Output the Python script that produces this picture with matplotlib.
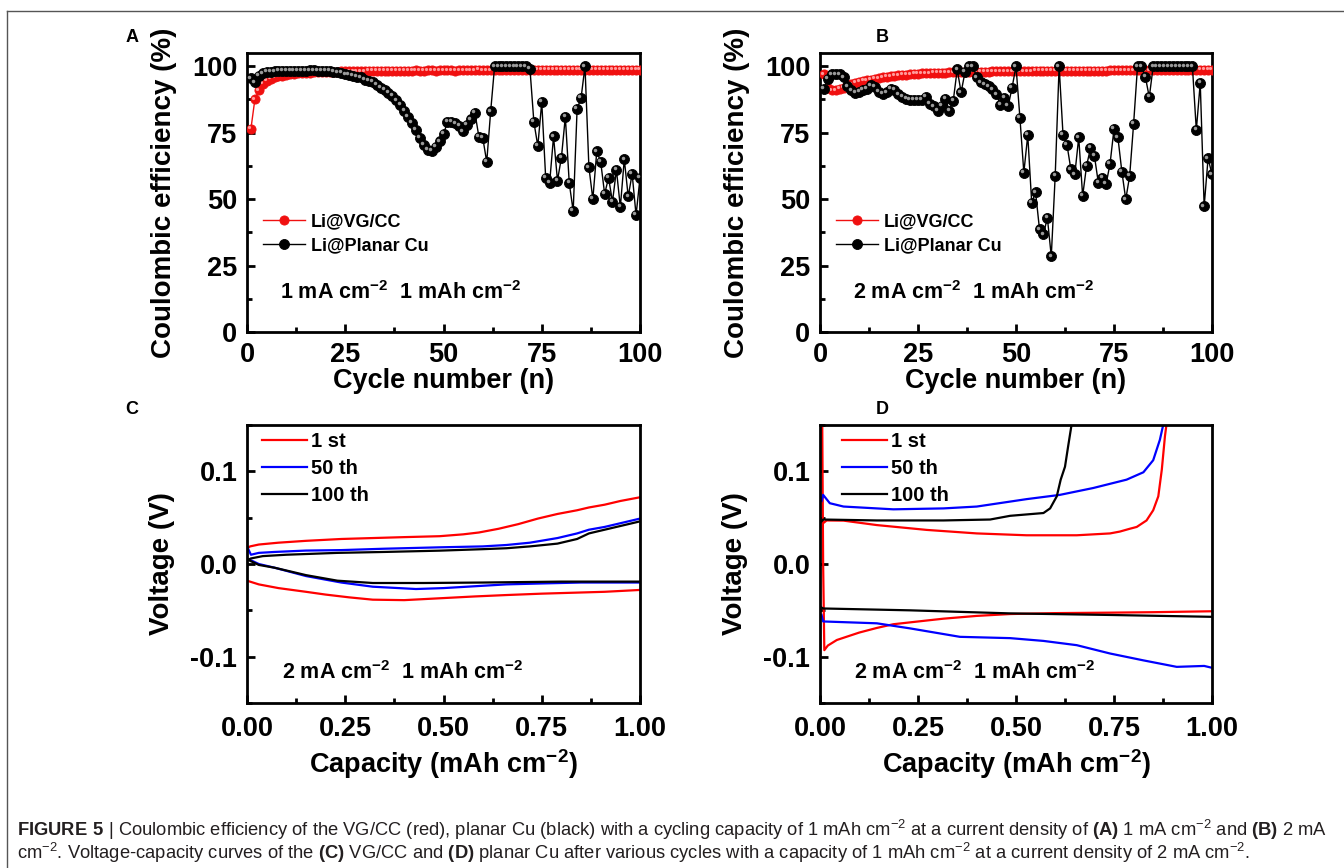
import matplotlib
matplotlib.use('Agg')
import matplotlib.pyplot as plt
from matplotlib.transforms import offset_copy
from matplotlib.ticker import MultipleLocator, FormatStrFormatter
from matplotlib.lines import Line2D

plt.rcParams['font.family'] = ['Liberation Sans', 'DejaVu Sans']
plt.rcParams['font.weight'] = 'bold'
plt.rcParams['axes.labelweight'] = 'bold'
plt.rcParams['mathtext.fontset'] = 'custom'
plt.rcParams['mathtext.rm'] = 'Liberation Sans'
plt.rcParams['mathtext.bf'] = 'Liberation Sans:bold'
plt.rcParams['mathtext.default'] = 'regular'
plt.rcParams['axes.unicode_minus'] = False

# ---------------- data ----------------
cycles = list(range(1, 101))

ce_a_vgcc = [76.5, 87.5, 91.0, 93.5, 94.5, 95.3, 95.8, 96.2, 96.5, 96.8,
             97.0, 97.2, 97.3, 97.4, 97.5, 97.6, 97.7, 97.7, 97.8, 97.8,
             97.9, 98.0, 98.0, 98.1, 98.1, 98.1, 98.2, 98.2, 98.2, 98.2,
             98.3, 98.3, 98.3, 98.3, 98.3, 98.4, 98.3, 98.4, 98.4, 98.4,
             98.4, 98.4, 98.5, 98.4, 98.4, 98.5, 98.5, 98.4, 98.5, 98.5,
             98.5, 98.5, 98.4, 98.5, 98.5, 98.5, 98.5, 98.5, 98.6, 98.5,
             98.5, 98.5, 98.6, 98.5, 98.5, 98.6, 98.6, 98.5, 98.6, 98.6,
             98.6, 98.6, 98.5, 98.6, 98.6, 98.6, 98.6, 98.6, 98.6, 98.7,
             98.6, 98.6, 98.6, 98.7, 98.6, 98.6, 98.7, 98.7, 98.6, 98.7,
             98.7, 98.7, 98.6, 98.7, 98.7, 98.7, 98.7, 98.7, 98.7, 98.7]

ce_a_cu = [95.5, 94.0, 96.5, 97.3, 97.8, 98.0, 98.1, 98.2, 98.2, 98.2,
           98.3, 98.3, 98.3, 98.4, 98.4, 98.5, 98.5, 98.4, 98.4, 98.3,
           98.2, 98.0, 97.7, 97.4, 97.0, 96.8, 96.4, 95.9, 95.8, 95.0,
           94.6, 94.2, 93.0, 92.0, 91.0, 90.0, 88.8, 87.2, 85.6, 83.3,
           81.0, 78.8, 76.2, 73.0, 70.5, 68.5, 68.3, 69.8, 71.8, 74.5,
           79.0, 79.0, 78.5, 77.5, 75.5, 78.0, 80.0, 82.5, 73.5, 73.0,
           64.0, 83.0, 100.0, 100.0, 100.0, 100.0, 100.0, 100.0, 100.0, 100.0,
           100.0, 99.0, 79.0, 70.0, 86.5, 58.0, 56.0, 73.6, 57.0, 65.6,
           81.0, 56.0, 45.5, 84.0, 88.0, 100.0, 62.0, 50.0, 68.0, 64.0,
           52.0, 58.0, 49.0, 61.0, 47.0, 65.0, 51.0, 59.5, 44.0, 58.0]

ce_b_vgcc = [97.0, 92.0, 91.0, 91.0, 91.5, 92.0, 92.8, 93.3, 93.8, 94.2,
             94.5, 94.8, 95.0, 95.3, 95.5, 95.8, 96.0, 96.2, 96.4, 96.6,
             96.8, 96.9, 97.0, 97.1, 97.2, 97.3, 97.4, 97.4, 97.5, 97.5,
             97.6, 97.6, 97.7, 97.7, 97.8, 97.8, 97.8, 97.9, 97.9, 98.0,
             98.0, 98.0, 98.0, 98.1, 98.1, 98.1, 98.1, 98.1, 98.2, 98.2,
             98.2, 98.2, 98.2, 98.2, 98.3, 98.3, 98.3, 98.3, 98.3, 98.3,
             98.3, 98.3, 98.4, 98.4, 98.4, 98.4, 98.4, 98.4, 98.4, 98.4,
             98.4, 98.4, 98.4, 98.5, 98.5, 98.5, 98.5, 98.5, 98.5, 98.5,
             98.5, 98.5, 98.5, 98.5, 98.5, 98.5, 98.6, 98.6, 98.6, 98.6,
             98.6, 98.6, 98.6, 98.6, 98.6, 98.6, 98.6, 98.6, 98.6, 98.6]

ce_b_cu = [91.5, 95.3, 97.0, 97.0, 97.0, 95.8, 92.4, 90.9, 89.9, 90.5,
           91.0, 91.5, 92.8, 92.2, 90.5, 89.6, 90.2, 91.5, 91.0, 89.4,
           88.5, 87.8, 87.4, 87.4, 87.4, 87.4, 88.4, 85.9, 84.9, 83.3,
           85.2, 87.8, 83.3, 87.1, 98.8, 90.2, 97.9, 100.0, 100.0, 95.8,
           93.9, 93.2, 92.5, 91.3, 89.4, 85.6, 88.1, 85.0, 92.0, 100.0,
           80.6, 60.0, 74.1, 48.7, 52.5, 38.6, 36.7, 43.0, 28.5, 58.8,
           100.0, 74.1, 70.5, 61.2, 59.3, 73.2, 51.2, 62.5, 69.2, 66.3,
           56.2, 58.1, 55.8, 63.4, 76.4, 73.2, 60.4, 49.9, 58.8, 78.3,
           100.0, 100.0, 96.0, 88.4, 100.0, 100.0, 100.0, 100.0, 100.0, 100.0,
           100.0, 100.0, 100.0, 100.0, 100.0, 76.0, 93.7, 47.3, 65.4, 59.3]

# Panel C (VG/CC) voltage-capacity
c_1st_chg_cap = [0.0, 0.008, 0.03, 0.08, 0.15, 0.24, 0.32, 0.40, 0.49, 0.55, 0.59, 0.64, 0.69, 0.74, 0.79, 0.84, 0.87, 0.91, 0.95, 1.0]
c_1st_chg_v = [0.017, 0.019, 0.021, 0.023, 0.025, 0.027, 0.028, 0.029, 0.030, 0.032, 0.034, 0.038, 0.043, 0.049, 0.054, 0.058, 0.061, 0.064, 0.068, 0.072]
c_1st_dis_cap = [0.0, 0.03, 0.08, 0.15, 0.20, 0.26, 0.32, 0.40, 0.49, 0.58, 0.66, 0.75, 0.83, 0.91, 1.0]
c_1st_dis_v = [-0.018, -0.022, -0.026, -0.030, -0.033, -0.036, -0.0385, -0.039, -0.037, -0.035, -0.0335, -0.032, -0.031, -0.030, -0.028]
c_50th_chg_cap = [0.0, 0.01, 0.03, 0.07, 0.15, 0.24, 0.35, 0.49, 0.60, 0.66, 0.72, 0.79, 0.84, 0.87, 0.91, 0.95, 1.0]
c_50th_chg_v = [0.019, 0.010, 0.012, 0.013, 0.0145, 0.015, 0.0165, 0.018, 0.019, 0.0205, 0.023, 0.028, 0.033, 0.037, 0.040, 0.044, 0.049]
c_50th_dis_cap = [0.0, 0.03, 0.07, 0.15, 0.24, 0.32, 0.43, 0.50, 0.58, 0.66, 0.75, 0.85, 0.95, 1.0]
c_50th_dis_v = [0.006, 0.0, -0.004, -0.013, -0.020, -0.0245, -0.027, -0.026, -0.024, -0.022, -0.021, -0.020, -0.020, -0.020]
c_100th_chg_cap = [0.0, 0.01, 0.04, 0.10, 0.23, 0.35, 0.49, 0.60, 0.66, 0.72, 0.79, 0.84, 0.87, 0.91, 0.95, 1.0]
c_100th_chg_v = [0.004, 0.006, 0.0085, 0.010, 0.012, 0.013, 0.0144, 0.016, 0.017, 0.019, 0.022, 0.027, 0.033, 0.037, 0.041, 0.046]
c_100th_dis_cap = [0.0, 0.03, 0.07, 0.15, 0.23, 0.32, 0.45, 0.60, 0.80, 1.0]
c_100th_dis_v = [0.005, -0.001, -0.004, -0.012, -0.018, -0.0205, -0.0205, -0.020, -0.019, -0.019]

# Panel D (planar Cu) voltage-capacity
d_1st_chg_cap = [0.008, 0.017, 0.06, 0.145, 0.272, 0.40, 0.527, 0.655, 0.74, 0.765, 0.79, 0.808, 0.833, 0.85, 0.863, 0.872, 0.88, 0.884, 0.888]
d_1st_chg_v = [0.044, 0.047, 0.0468, 0.042, 0.0368, 0.033, 0.031, 0.031, 0.033, 0.035, 0.038, 0.040, 0.047, 0.058, 0.073, 0.102, 0.138, 0.151, 0.17]
d_1st_dis_cap = [0.005, 0.008, 0.011, 0.02, 0.043, 0.10, 0.145, 0.187, 0.272, 0.315, 0.40, 0.485, 0.60, 0.74, 0.85, 1.0]
d_1st_dis_v = [0.20, 0.0, -0.093, -0.088, -0.082, -0.074, -0.069, -0.065, -0.061, -0.059, -0.056, -0.054, -0.053, -0.0525, -0.052, -0.051]
d_50th_chg_cap = [0.004, 0.008, 0.025, 0.06, 0.187, 0.315, 0.40, 0.527, 0.612, 0.697, 0.782, 0.825, 0.85, 0.867, 0.876, 0.88]
d_50th_chg_v = [0.068, 0.0746, 0.0656, 0.062, 0.059, 0.060, 0.062, 0.070, 0.0746, 0.082, 0.091, 0.099, 0.112, 0.134, 0.151, 0.17]
d_50th_dis_cap = [0.004, 0.008, 0.145, 0.23, 0.357, 0.485, 0.57, 0.655, 0.74, 0.825, 0.91, 0.98, 1.0]
d_50th_dis_v = [-0.055, -0.062, -0.064, -0.0695, -0.0786, -0.080, -0.083, -0.0876, -0.0966, -0.104, -0.111, -0.110, -0.112]
d_100th_chg_cap = [0.004, 0.008, 0.145, 0.315, 0.434, 0.485, 0.57, 0.587, 0.604, 0.614, 0.625, 0.633, 0.642, 0.645]
d_100th_chg_v = [0.046, 0.048, 0.047, 0.047, 0.048, 0.052, 0.055, 0.060, 0.073, 0.091, 0.105, 0.127, 0.151, 0.17]
d_100th_dis_cap = [0.004, 0.008, 0.23, 0.485, 0.74, 1.0]
d_100th_dis_v = [-0.047, -0.048, -0.050, -0.0533, -0.055, -0.057]

cycle_labels = ['1 st', '50 th', '100 th']
ce_labels = ['Li@VG/CC', 'Li@Planar Cu']

caption_line1 = (r'$\mathbf{FIGURE\ 5}$ | Coulombic efficiency of the VG/CC (red), planar Cu (black) with a cycling '
                 r'capacity of 1 mAh cm$^{-2}$ at a current density of $\mathbf{(A)}$ 1 mA cm$^{-2}$ and $\mathbf{(B)}$ 2 mA')
caption_line2 = (r'cm$^{-2}$. Voltage-capacity curves of the $\mathbf{(C)}$ VG/CC and $\mathbf{(D)}$ planar Cu after '
                 r'various cycles with a capacity of 1 mAh cm$^{-2}$ at a current density of 2 mA cm$^{-2}$.')

# ---------------- figure ----------------
W, H = 1344, 868
fig = plt.figure(figsize=(W / 100, H / 100), dpi=100)


def rect(l, t, r, b):
    return [l / W, 1 - b / H, (r - l) / W, (b - t) / H]


axA = fig.add_axes(rect(247, 53, 640, 332))
axB = fig.add_axes(rect(820, 53, 1212, 332))
axC = fig.add_axes(rect(247, 425, 640, 703))
axD = fig.add_axes(rect(820, 425, 1212, 703))


def style(ax):
    for s in ax.spines.values():
        s.set_linewidth(2.0)
    ax.tick_params(which='both', direction='in', top=False, right=False, width=2.0)
    ax.tick_params(which='major', length=6, labelsize=19.5, pad=7)
    ax.tick_params(which='minor', length=3.5)


def spheres(ax, x, y, color, hl, ms, label, z):
    line, = ax.plot(x, y, '-', color=color, lw=1.0, marker='o', ms=ms,
                    mfc=color, mec=color, mew=0.6, label=label, zorder=z)
    tr = offset_copy(ax.transData, fig=fig, x=-ms * 0.17, y=ms * 0.17, units='points')
    ax.plot(x, y, 'o', ms=ms * 0.35, color=hl, mec='none', transform=tr, zorder=z + 0.1)
    return line


for ax, red, blk, note in [(axA, ce_a_vgcc, ce_a_cu, '1 mA cm$^{-2}$  1 mAh cm$^{-2}$'),
                           (axB, ce_b_vgcc, ce_b_cu, '2 mA cm$^{-2}$  1 mAh cm$^{-2}$')]:
    style(ax)
    l1 = spheres(ax, cycles, red, '#f01010', '#ff9a9a', 6.6, ce_labels[0], 3)
    l2 = spheres(ax, cycles, blk, '#000000', '#9a9a9a', 7.2, ce_labels[1], 4)
    ax.set_xlim(0, 100)
    ax.set_ylim(0, 105)
    ax.xaxis.set_major_locator(MultipleLocator(25))
    ax.xaxis.set_minor_locator(MultipleLocator(12.5))
    ax.yaxis.set_major_locator(MultipleLocator(25))
    ax.yaxis.set_minor_locator(MultipleLocator(12.5))
    ax.set_xlabel('Cycle number (n)', fontsize=19.5)
    ax.set_ylabel('Coulombic efficiency (%)', fontsize=20)
    ax.xaxis.set_label_coords(0.5, -0.13)
    ax.yaxis.set_label_coords(-0.178, 0.5)
    ax.legend(handles=[l1, l2], loc='center left', bbox_to_anchor=(0.04, 0.353),
              frameon=False, fontsize=13, handlelength=2.35, handletextpad=0.3,
              labelspacing=0.37, borderpad=0, borderaxespad=0)
    ax.text(0.084, 0.14, note, transform=ax.transAxes, fontsize=15.5,
            fontweight='bold', va='center', ha='left')

vc_sets = [
    (axC, [(c_1st_chg_cap, c_1st_chg_v, c_1st_dis_cap, c_1st_dis_v),
           (c_50th_chg_cap, c_50th_chg_v, c_50th_dis_cap, c_50th_dis_v),
           (c_100th_chg_cap, c_100th_chg_v, c_100th_dis_cap, c_100th_dis_v)], 0.038),
    (axD, [(d_1st_chg_cap, d_1st_chg_v, d_1st_dis_cap, d_1st_dis_v),
           (d_50th_chg_cap, d_50th_chg_v, d_50th_dis_cap, d_50th_dis_v),
           (d_100th_chg_cap, d_100th_chg_v, d_100th_dis_cap, d_100th_dis_v)], 0.056),
]
colors = ['#ff0000', '#0000ff', '#000000']
for ax, curves, lx in vc_sets:
    style(ax)
    handles = []
    for (cc, cv, dc, dv), col, lab in zip(curves, colors, cycle_labels):
        h, = ax.plot(cc, cv, color=col, lw=1.6, label=lab)
        ax.plot(dc, dv, color=col, lw=1.6)
        handles.append(h)
    ax.set_xlim(0, 1.0)
    ax.set_ylim(-0.15, 0.15)
    ax.xaxis.set_major_locator(MultipleLocator(0.25))
    ax.xaxis.set_minor_locator(MultipleLocator(0.125))
    ax.xaxis.set_major_formatter(FormatStrFormatter('%.2f'))
    ax.yaxis.set_major_locator(MultipleLocator(0.1))
    ax.yaxis.set_minor_locator(MultipleLocator(0.05))
    ax.yaxis.set_major_formatter(FormatStrFormatter('%.1f'))
    ax.tick_params(axis='x', pad=9)
    ax.set_xlabel('Capacity (mAh cm$^{-2}$)', fontsize=19.5)
    ax.set_ylabel('Voltage (V)', fontsize=20)
    ax.xaxis.set_label_coords(0.5, -0.16)
    ax.yaxis.set_label_coords(-0.183, 0.5)
    ax.legend(handles=handles, loc='center left', bbox_to_anchor=(lx, 0.843),
              frameon=False, fontsize=14.5, handlelength=2.25, handletextpad=0.2,
              labelspacing=0.4, borderpad=0, borderaxespad=0)
    ax.text(0.088, 0.108, '2 mA cm$^{-2}$  1 mAh cm$^{-2}$', transform=ax.transAxes,
            fontsize=15.5, fontweight='bold', va='center', ha='left')

# panel letters
for letter, x, y in [('A', 132, 37), ('B', 882, 37), ('C', 132, 410), ('D', 882, 410)]:
    fig.text(x / W, 1 - y / H, letter, fontsize=13, fontweight='bold', ha='center', va='center')

# figure frame (top and left rule)
fig.add_artist(Line2D([7 / W, 7 / W], [0, 1 - 10.5 / H], transform=fig.transFigure, color='#555555', lw=1.0))
fig.add_artist(Line2D([7 / W, 1], [1 - 10.5 / H, 1 - 10.5 / H], transform=fig.transFigure, color='#555555', lw=1.0))

# caption, sized so that line 1 spans the frame width
cap_size = 11.0
t1 = fig.text(17 / W, 1 - 836 / H, caption_line1, fontsize=cap_size, fontweight='normal',
              color='#231f20', ha='left', va='baseline')
t2 = fig.text(17 / W, 1 - 859 / H, caption_line2, fontsize=cap_size, fontweight='normal',
              color='#231f20', ha='left', va='baseline')
renderer = fig.canvas.get_renderer()
w1 = t1.get_window_extent(renderer).width
new_size = cap_size * 1312 / w1
t1.set_fontsize(new_size)
t2.set_fontsize(new_size)

fig.savefig('out.png', dpi=100)
